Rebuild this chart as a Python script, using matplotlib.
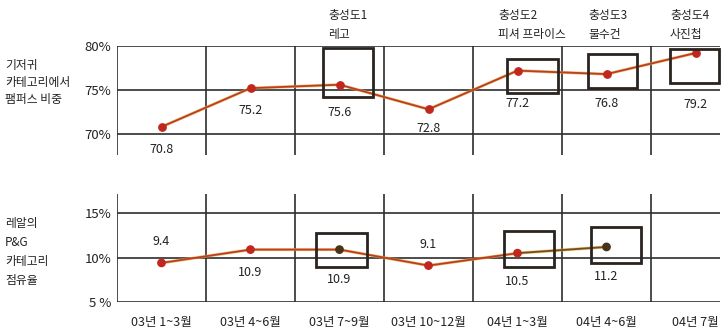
import matplotlib.pyplot as plt
from matplotlib.patches import Rectangle
import matplotlib.transforms as mtransforms

plt.rcParams['font.family'] = ['Noto Sans CJK KR', 'DejaVu Sans']

# data
periods = ['03년 1~3월', '03년 4~6월', '03년 7~9월', '03년 10~12월',
           '04년 1~3월', '04년 4~6월', '04년 7월']
pampers_share = [70.8, 75.2, 75.6, 72.8, 77.2, 76.8, 79.2]   # 기저귀 카테고리에서 팸퍼스 비중
pg_share = [9.4, 10.9, 10.9, 9.1, 10.5, 11.2]                 # 레알의 P&G 카테고리 점유율 (04년 7월 없음)

events = ['충성도1\n레고', '충성도2\n피셔 프라이스', '충성도3\n물수건', '충성도4\n사진첩']
event_idx = [2, 4, 5, 6]
pg_box_idx = [2, 4, 5]

top_ticks = [70, 75, 80]
top_ticklabels = ['70%', '75%', '80%']
bot_ticks = [5, 10, 15]
bot_ticklabels = ['5 %', '10%', '15%']

# styles
grid_c = '#2e2e2e'
box_c = '#2a2420'
line_red = '#c23a22'
line_yel = '#d4b040'
dark_pt = '#4a3418'

fig = plt.figure(figsize=(7.27, 3.30), dpi=100)
ax1 = fig.add_axes([117/727, 1-155/330, 603/727, 109/330])
ax2 = fig.add_axes([117/727, 1-302/330, 603/727, 108/330])

n = len(periods)
xs = list(range(n))
xmax = 5.5 + 69/89

for ax, lo, hi, ticks, labels in [(ax1, 67.6, 80, top_ticks, top_ticklabels),
                                  (ax2, 5, 17.16, bot_ticks, bot_ticklabels)]:
    ax.set_xlim(-0.5, xmax)
    ax.set_ylim(lo, hi)
    for s in ax.spines.values():
        s.set_visible(False)
    for t in ticks:
        ax.axhline(t, color=grid_c, lw=1.2, zorder=1)
    for b in range(n):
        ax.axvline(b - 0.5, color=grid_c, lw=1.2, zorder=1)
    ax.set_yticks(ticks)
    ax.set_yticklabels(labels, fontsize=9.5)
    ax.tick_params(axis='y', length=0, pad=4, colors='#222222')
    ax.set_xticks([])

ax2.set_xticks(xs)
ax2.set_xticklabels(periods, fontsize=9)
ax2.tick_params(axis='x', length=0, pad=10, colors='#222222')

# top series
ax1.plot(xs, pampers_share, color=line_yel, lw=2.2, alpha=0.7, zorder=3)
ax1.plot(xs, pampers_share, color=line_red, lw=1.3, zorder=4)
ax1.scatter(xs, pampers_share, s=28, color='#c0281e', zorder=5)

top_off = [-23, -22, -28, -19, -33, -29, -51]
for i, v in enumerate(pampers_share):
    ax1.annotate(f'{v:.1f}', (i, v), xytext=(0, top_off[i]), textcoords='offset pixels',
                 ha='center', va='center', fontsize=9, color='#222222')

# highlight boxes (top)
top_boxes = [(-0.185, 0.376, 74.2, 79.77), (-0.118, 0.455, 74.66, 78.52),
             (-0.208, 0.343, 75.23, 79.09), (-0.287, 0.264, 75.8, 79.66)]
for i, (a, b, y0, y1) in zip(event_idx, top_boxes):
    ax1.add_patch(Rectangle((i + a, y0), b - a, y1 - y0, fill=False, ec=box_c, lw=2,
                            zorder=6, clip_on=False))

# event annotations
trans = mtransforms.blended_transform_factory(ax1.transData, ax1.transAxes)
ev_x = [1.871, 3.781, 4.792, 5.713]
for x, t in zip(ev_x, events):
    ax1.text(x, 1.05, t, transform=trans, ha='left', va='bottom', fontsize=8.5,
             linespacing=1.55, color='#222222')

# bottom series
px = xs[:len(pg_share)]
ax2.plot(px, pg_share, color=line_yel, lw=2.2, alpha=0.7, zorder=3)
ax2.plot(px[:5], pg_share[:5], color=line_red, lw=1.3, zorder=4)
ax2.plot(px[4:], pg_share[4:], color='#7a4a1c', lw=1.3, zorder=4)
pt_colors = ['#c0281e', '#c0281e', dark_pt, '#c0281e', '#c0281e', dark_pt]
ax2.scatter(px, pg_share, s=28, color=pt_colors, zorder=5)

bot_off = [21, -23, -30, 21, -28, -30]
for i, v in enumerate(pg_share):
    ax2.annotate(f'{v:.1f}', (i, v), xytext=(0, bot_off[i]), textcoords='offset pixels',
                 ha='center', va='center', fontsize=9, color='#222222')

bot_boxes = [(-0.264, 0.309, 8.98, 12.73), (-0.152, 0.410, 8.98, 12.95),
             (-0.174, 0.388, 9.43, 13.41)]
for i, (a, b, y0, y1) in zip(pg_box_idx, bot_boxes):
    ax2.add_patch(Rectangle((i + a, y0), b - a, y1 - y0, fill=False, ec=box_c, lw=2,
                            zorder=6, clip_on=False))

# side labels
fig.text(5/727, 1-83/330, '기저귀\n카테고리에서\n팸퍼스 비중', ha='left', va='center',
         fontsize=8.5, linespacing=1.4, color='#222222')
fig.text(5/727, 1-252/330, '레알의\nP&G\n카테고리\n점유율', ha='left', va='center',
         fontsize=8.5, linespacing=1.6, color='#222222')

fig.savefig('out.png', dpi=100)
